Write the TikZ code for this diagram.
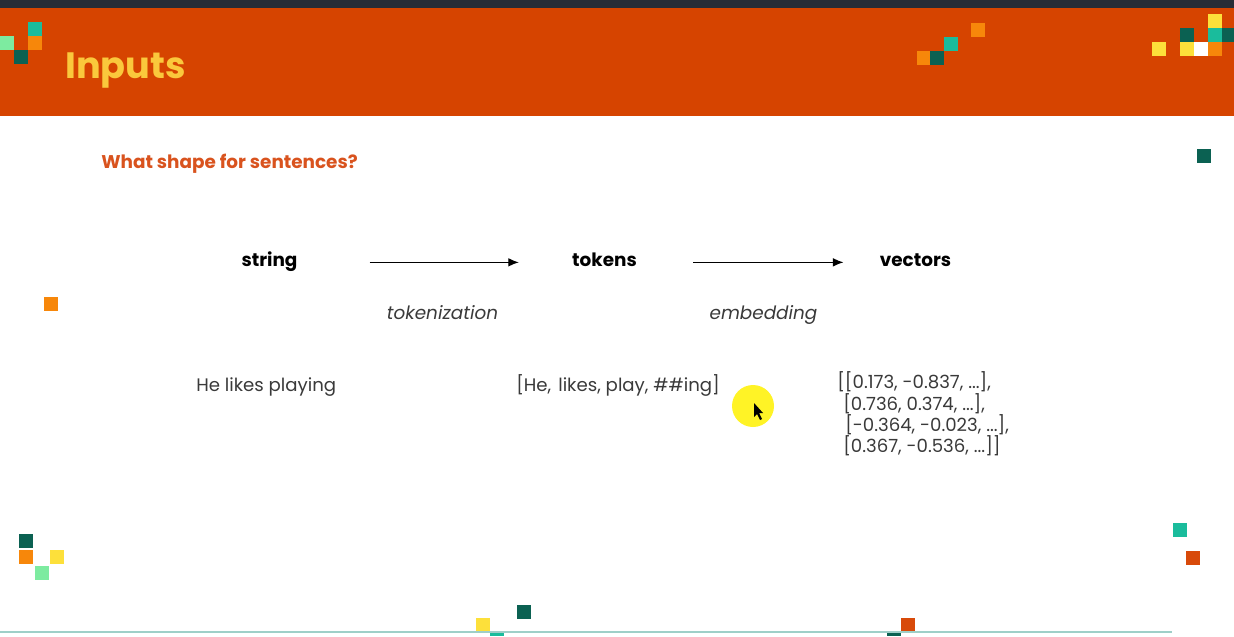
\documentclass[tikz,border=0pt]{standalone}
\usepackage{fontspec}
\setmainfont{Poppins}
\usetikzlibrary{arrows.meta}
\definecolor{barDark}{HTML}{272C36}
\definecolor{headOrange}{HTML}{D64400}
\definecolor{titleYellow}{HTML}{FAC83C}
\definecolor{subOrange}{HTML}{D9531E}
\definecolor{sqTeal}{HTML}{1ABC9C}
\definecolor{sqLight}{HTML}{7DEBA0}
\definecolor{sqOrange}{HTML}{F7870A}
\definecolor{sqDark}{HTML}{0B6152}
\definecolor{sqYellow}{HTML}{FDE03A}
\definecolor{sqRed}{HTML}{D84A0A}
\definecolor{lineTeal}{HTML}{9FCFC8}
\definecolor{txtGray}{HTML}{3A3A3A}
\tikzset{
  sq/.style={fill=#1, draw=none},
  stage/.style={font=\fontsize{13.8}{16}\selectfont\bfseries, text=black, inner sep=0pt, anchor=base},
  opname/.style={font=\fontsize{13.8}{16}\selectfont\itshape, text=txtGray, inner sep=0pt, anchor=base},
  sample/.style={font=\fontsize{13.6}{16}\selectfont, text=txtGray, inner sep=0pt, anchor=base west},
  arr/.style={-{Latex[length=8pt,width=6.5pt]}, line width=1pt, black}
}
\newcommand{\pix}[3]{\fill[sq=#3] (#1,#2) rectangle ++(14,14);}
\begin{document}
\begin{tikzpicture}[x=0.75pt,y=-0.75pt]
\useasboundingbox (0,0) rectangle (1234,636);
\fill[white] (0,0) rectangle (1234,636);
% header band
\fill[barDark] (0,0) rectangle (1234,8);
\fill[headOrange] (0,8) rectangle (1234,116);
\node[font=\fontsize{27.5}{30}\selectfont\bfseries, text=titleYellow, anchor=base west, inner sep=0pt] (title) at (65,78) {Inputs};
% header pixels, left
\pix{28}{22}{sqTeal}
\pix{0}{36}{sqLight}
\pix{28}{36}{sqOrange}
\pix{14}{50}{sqDark}
% header pixels, right
\pix{917}{51}{sqOrange}
\pix{930}{51}{sqDark}
\pix{944}{37}{sqTeal}
\pix{971}{23}{sqOrange}
\pix{1152}{42}{sqYellow}
\pix{1180}{28}{sqDark}
\pix{1180}{42}{sqYellow}
\pix{1194}{42}{white}
\pix{1208}{42}{sqOrange}
\pix{1208}{28}{sqTeal}
\pix{1208}{14}{sqYellow}
\fill[sqDark] (1222,28) rectangle (1234,42);
% subtitle
\node[font=\fontsize{13.8}{16}\selectfont\bfseries, text=subOrange, anchor=base west, inner sep=0pt] (question) at (101,168) {What shape for sentences?};
% pipeline
\node[stage] (string) at (269.5,266) {string};
\node[stage] (tokens) at (604.5,266) {tokens};
\node[stage] (vectors) at (915.5,266) {vectors};
\draw[arr, shorten <=54pt, shorten >=39.75pt] (string.mid east) -- (tokens.mid west);
\draw[arr, shorten <=42pt, shorten >=27pt] (tokens.mid east) -- (vectors.mid west);
\node[opname] (tok) at (442.5,319) {tokenization};
\node[opname] (emb) at (763.5,319) {embedding};
% examples
\node[sample] (sentence) at (196,391) {He likes playing};
\node[sample] (tokenlist) at (516,391) {[He,\ \hspace{0.12em}likes, play, \#\#ing]};
\node[sample] (v1) at (837,388) {[[0.173, -0.837, ...],};
\node[sample] (v2) at (843,410) {[0.736, 0.374, ...],};
\node[sample] (v3) at (845,431) {[-0.364, -0.023, ...],};
\node[sample] (v4) at (843,452) {[0.367, -0.536, ...]]};
% pointer highlight
\fill[yellow, opacity=0.85] (753,406) circle (21);
\fill[black] (754,403) -- (754,417) -- (757,414) -- (760,420) -- (762,419) -- (759,413) -- (763,413) -- cycle;
% side pixels
\pix{1197}{149}{sqDark}
\pix{44}{297}{sqOrange}
\pix{19}{534}{sqDark}
\pix{19}{550}{sqOrange}
\pix{50}{550}{sqYellow}
\pix{35}{566}{sqLight}
\pix{1173}{523}{sqTeal}
\pix{1186}{551}{sqRed}
% bottom rule and pixels
\pix{476}{618}{sqYellow}
\pix{517}{605}{sqDark}
\pix{901}{618}{sqRed}
\fill[sqTeal] (490,632) rectangle (504,636);
\fill[sqDark] (887,632) rectangle (901,636);
\draw[lineTeal, line width=1.5pt] (0,632) -- (1172,632);
\end{tikzpicture}
\end{document}
